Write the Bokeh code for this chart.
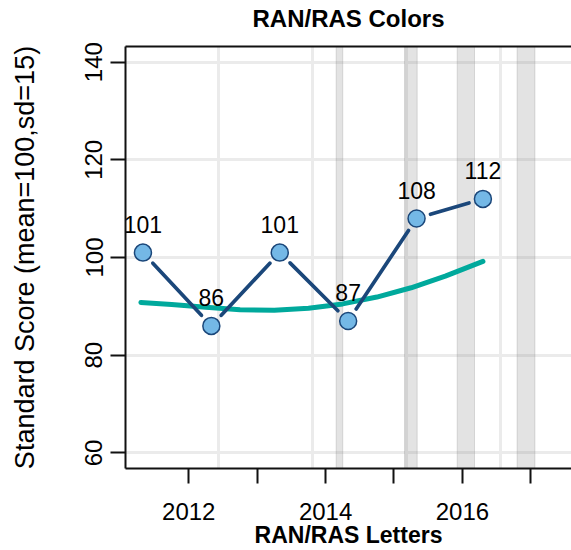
import math
from bokeh.plotting import figure
from bokeh.models import FixedTicker, LinearAxis, Range1d
from bokeh.embed import file_html
from bokeh.resources import INLINE
from bokeh.core.properties import value

# ---- data ----
years = [2011.33, 2012.33, 2013.33, 2014.33, 2015.33, 2016.30]
scores = [101, 86, 101, 87, 108, 112]
score_labels = ["101", "86", "101", "87", "108", "112"]

trend_x = [2011.30, 2011.75, 2012.25, 2012.75, 2013.25, 2013.75, 2014.25, 2014.75, 2015.25, 2015.75, 2016.30]
trend_y = [90.8, 90.4, 89.8, 89.3, 89.2, 89.6, 90.5, 91.9, 93.8, 96.2, 99.2]

band_start = [2014.155, 2015.154, 2015.924, 2016.80]
band_end = [2014.251, 2015.339, 2016.177, 2017.06]

x_ticks = [2012, 2013, 2014, 2015, 2016, 2017]
x_tick_labels = ["2012", "", "2014", "", "2016", ""]
y_ticks = [60, 80, 100, 120, 140]
grid_x = [2012.43, 2013.81, 2015.18, 2016.56]
title_text = "RAN/RAS Colors"

# ---- layout ----
W, H = 571, 550
LEFT, BOTTOM, TOP = 125, 82, 46
X0, X1 = 2011.075, 2017.595
Y0, Y1 = 56.8, 143.2
FONT = "Liberation Sans"

NAVY = "#1B477A"
TEAL = "#00A99C"
LIGHT = "#74B8E6"

p = figure(width=W, height=H, output_backend="svg", toolbar_location=None,
           x_range=Range1d(X0, X1), y_range=Range1d(Y0, Y1),
           min_border_left=LEFT, min_border_bottom=BOTTOM, min_border_top=TOP,
           min_border_right=0)
p.outline_line_color = None
p.background_fill_color = "white"
p.border_fill_color = "white"

frame_w = W - LEFT
frame_h = H - TOP - BOTTOM
sx = frame_w / (X1 - X0)
sy = frame_h / (Y1 - Y0)

# axes
for ax in (p.xaxis[0], p.yaxis[0]):
    ax.axis_line_width = 2
    ax.axis_line_color = "#111111"
    ax.major_tick_line_width = 2
    ax.major_tick_line_color = "#111111"
    ax.major_tick_in = 0
    ax.major_tick_out = 15
    ax.minor_tick_line_color = None
    ax.major_label_text_font = FONT
    ax.major_label_text_font_size = "24px"
    ax.major_label_text_color = "black"
    ax.axis_label_text_font = FONT
    ax.axis_label_text_color = "black"

xa = p.xaxis[0]
xa.ticker = FixedTicker(ticks=x_ticks)
xa.major_label_overrides = {t: l for t, l in zip(x_ticks, x_tick_labels)}
xa.major_label_standoff = 19
xa.axis_label = "RAN/RAS Letters"
xa.axis_label_text_font_size = "23px"
xa.axis_label_text_font_style = "bold"
xa.axis_label_standoff = -1

ya = p.yaxis[0]
ya.ticker = FixedTicker(ticks=y_ticks)
ya.major_label_orientation = "vertical"
ya.major_label_standoff = 8
ya.axis_label = "Standard Score (mean=100,sd=15)"
ya.axis_label_text_font_size = "27px"
ya.axis_label_text_font_style = "normal"
ya.axis_label_standoff = 43

# top border + title
top_ax = LinearAxis(ticker=FixedTicker(ticks=[]), axis_line_width=2, axis_line_color="#111111",
                    major_tick_line_color=None, minor_tick_line_color=None,
                    major_label_text_font_size="0px", major_tick_out=0, major_tick_in=0,
                    major_label_standoff=0,
                    axis_label=title_text, axis_label_text_font=FONT,
                    axis_label_text_font_size="24px", axis_label_text_font_style="bold",
                    axis_label_text_color="black", axis_label_standoff=15)
p.add_layout(top_ax, "above")

# grids
p.xgrid.ticker = FixedTicker(ticks=grid_x)
p.ygrid.ticker = FixedTicker(ticks=y_ticks)
for g in (p.xgrid[0], p.ygrid[0]):
    g.grid_line_color = "#EBEBEB"
    g.grid_line_width = 3

# shaded bands
p.quad(left=band_start, right=band_end, bottom=Y0 - 10, top=Y1 + 10,
       fill_color="#808080", fill_alpha=0.22, line_color="#808080", line_alpha=0.25, line_width=1)

# trend line
p.line(trend_x, trend_y, line_color=TEAL, line_width=5, line_cap="round", line_join="round")

# connecting segments with gaps around points
GAP = 14.5
sx0, sy0, sx1, sy1 = [], [], [], []
for i in range(len(years) - 1):
    dx = years[i + 1] - years[i]
    dy = scores[i + 1] - scores[i]
    L = math.hypot(dx * sx, dy * sy)
    f = GAP / L
    sx0.append(years[i] + dx * f)
    sy0.append(scores[i] + dy * f)
    sx1.append(years[i + 1] - dx * f)
    sy1.append(scores[i + 1] - dy * f)
p.segment(sx0, sy0, sx1, sy1, line_color=NAVY, line_width=3.7, line_cap="round")

# points
p.scatter(years, scores, size=17, fill_color=LIGHT, line_color=NAVY, line_width=1.5)

# labels
p.text(years, scores, text=score_labels, y_offset=-28, text_align="center",
       text_baseline="alphabetic", text_font=value(FONT), text_font_size="23px",
       text_color="black")

open("out.html", "w").write(file_html(p, INLINE))
